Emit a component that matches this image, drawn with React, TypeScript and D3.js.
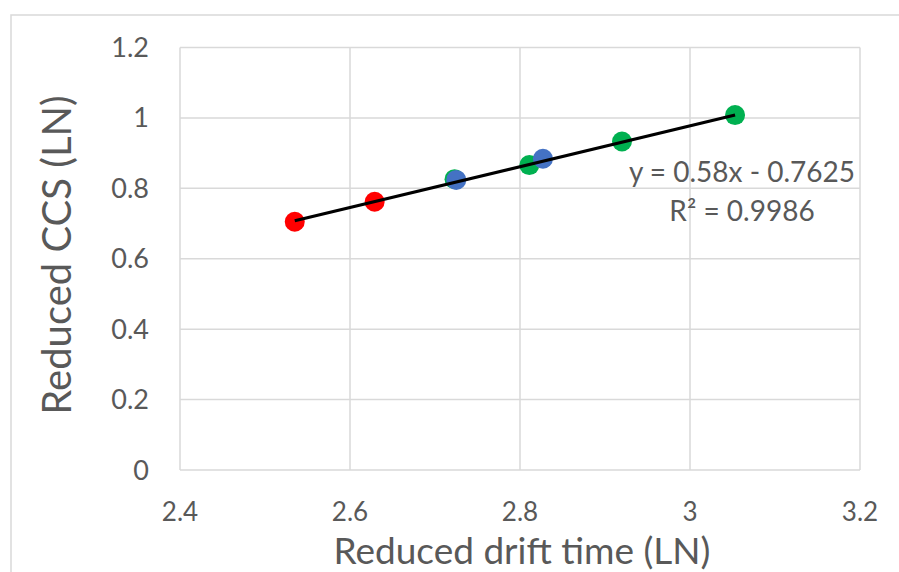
import React, { useEffect, useRef } from 'react'
import * as d3 from 'd3'

// series (x = reduced drift time, y = reduced CCS)
const redX = [2.535, 2.629]
const redY = [0.705, 0.762]
const greenX = [2.723, 2.811, 2.920, 3.053]
const greenY = [0.826, 0.866, 0.933, 1.008]
const blueX = [2.725, 2.827]
const blueY = [0.824, 0.884]

const xTicks = [2.4, 2.6, 2.8, 3.0, 3.2]
const yTicks = [0, 0.2, 0.4, 0.6, 0.8, 1.0, 1.2]

const slope = 0.58
const intercept = -0.7625
const fitRange = [2.535, 3.053]
const eqLabel = 'y = 0.58x - 0.7625'
const r2Label = 'R² = 0.9986'

const FONT = 'Lato, "Open Sans", sans-serif'

const App = () => {
    const ref = useRef<SVGSVGElement>(null)

    useEffect(() => {
        const width = 899, height = 572
        const left = 180, right = 860, top = 47.5, bottom = 470
        const x = d3.scaleLinear().domain([2.4, 3.2]).range([left, right])
        const y = d3.scaleLinear().domain([0, 1.2]).range([bottom, top])

        const svg = d3.select(ref.current)
        svg.selectAll('*').remove()
        svg.attr('width', width).attr('height', height)

        // chart border (runs out of frame right and bottom)
        svg.append('path')
            .attr('d', `M11,${height}V15H${width}`)
            .attr('fill', 'none')
            .attr('stroke', '#d9d9d9')
            .attr('stroke-width', 1.5)

        // gridlines
        svg.append('g').selectAll('line').data(yTicks).enter().append('line')
            .attr('x1', left).attr('x2', right)
            .attr('y1', d => y(d)).attr('y2', d => y(d))
            .attr('stroke', '#d9d9d9').attr('stroke-width', 1.5)
        svg.append('g').selectAll('line').data(xTicks).enter().append('line')
            .attr('x1', d => x(d)).attr('x2', d => x(d))
            .attr('y1', top).attr('y2', bottom)
            .attr('stroke', '#d9d9d9').attr('stroke-width', 1.5)

        // tick labels
        svg.append('g').selectAll('text').data(yTicks).enter().append('text')
            .attr('x', 149).attr('y', d => y(d) + 9.5)
            .attr('text-anchor', 'end')
            .attr('font-family', FONT).attr('font-size', 27).attr('fill', '#595959')
            .text(d => d3.format('~g')(d))
        svg.append('g').selectAll('text').data(xTicks).enter().append('text')
            .attr('x', d => x(d)).attr('y', 521)
            .attr('text-anchor', 'middle')
            .attr('font-family', FONT).attr('font-size', 26).attr('fill', '#595959')
            .text(d => d3.format('~g')(d))

        // axis titles
        svg.append('text')
            .attr('x', 522).attr('y', 563.5)
            .attr('text-anchor', 'middle')
            .attr('font-family', FONT).attr('font-size', 37).attr('fill', '#595959')
            .text('Reduced drift time (LN)')
        svg.append('text')
            .attr('transform', `translate(71,255) rotate(-90)`)
            .attr('text-anchor', 'middle')
            .attr('font-family', FONT).attr('font-size', 40).attr('fill', '#595959')
            .text('Reduced CCS (LN)')

        // points
        const series = [
            { xs: redX, ys: redY, color: '#ff0000' },
            { xs: greenX, ys: greenY, color: '#00b050' },
            { xs: blueX, ys: blueY, color: '#4472c4' },
        ]
        series.forEach(s => {
            svg.append('g').selectAll('circle').data(s.xs).enter().append('circle')
                .attr('cx', d => x(d))
                .attr('cy', (d, i) => y(s.ys[i]))
                .attr('r', 10)
                .attr('fill', s.color)
        })

        // linear trendline
        const line = d3.line<number>()
            .x(d => x(d))
            .y(d => y(slope * d + intercept))
        svg.append('path')
            .datum(fitRange)
            .attr('d', line)
            .attr('fill', 'none')
            .attr('stroke', '#000')
            .attr('stroke-width', 3.2)

        svg.append('text')
            .attr('x', 742).attr('y', 182)
            .attr('text-anchor', 'middle')
            .attr('font-family', FONT).attr('font-size', 28).attr('fill', '#595959')
            .text(eqLabel)
        svg.append('text')
            .attr('x', 742).attr('y', 221)
            .attr('text-anchor', 'middle')
            .attr('font-family', FONT).attr('font-size', 28).attr('fill', '#595959')
            .text(r2Label)
    }, [])

    return <svg ref={ref} style={{ position: 'absolute', left: 0, top: 0, background: '#fff' }} />
}

export default App
